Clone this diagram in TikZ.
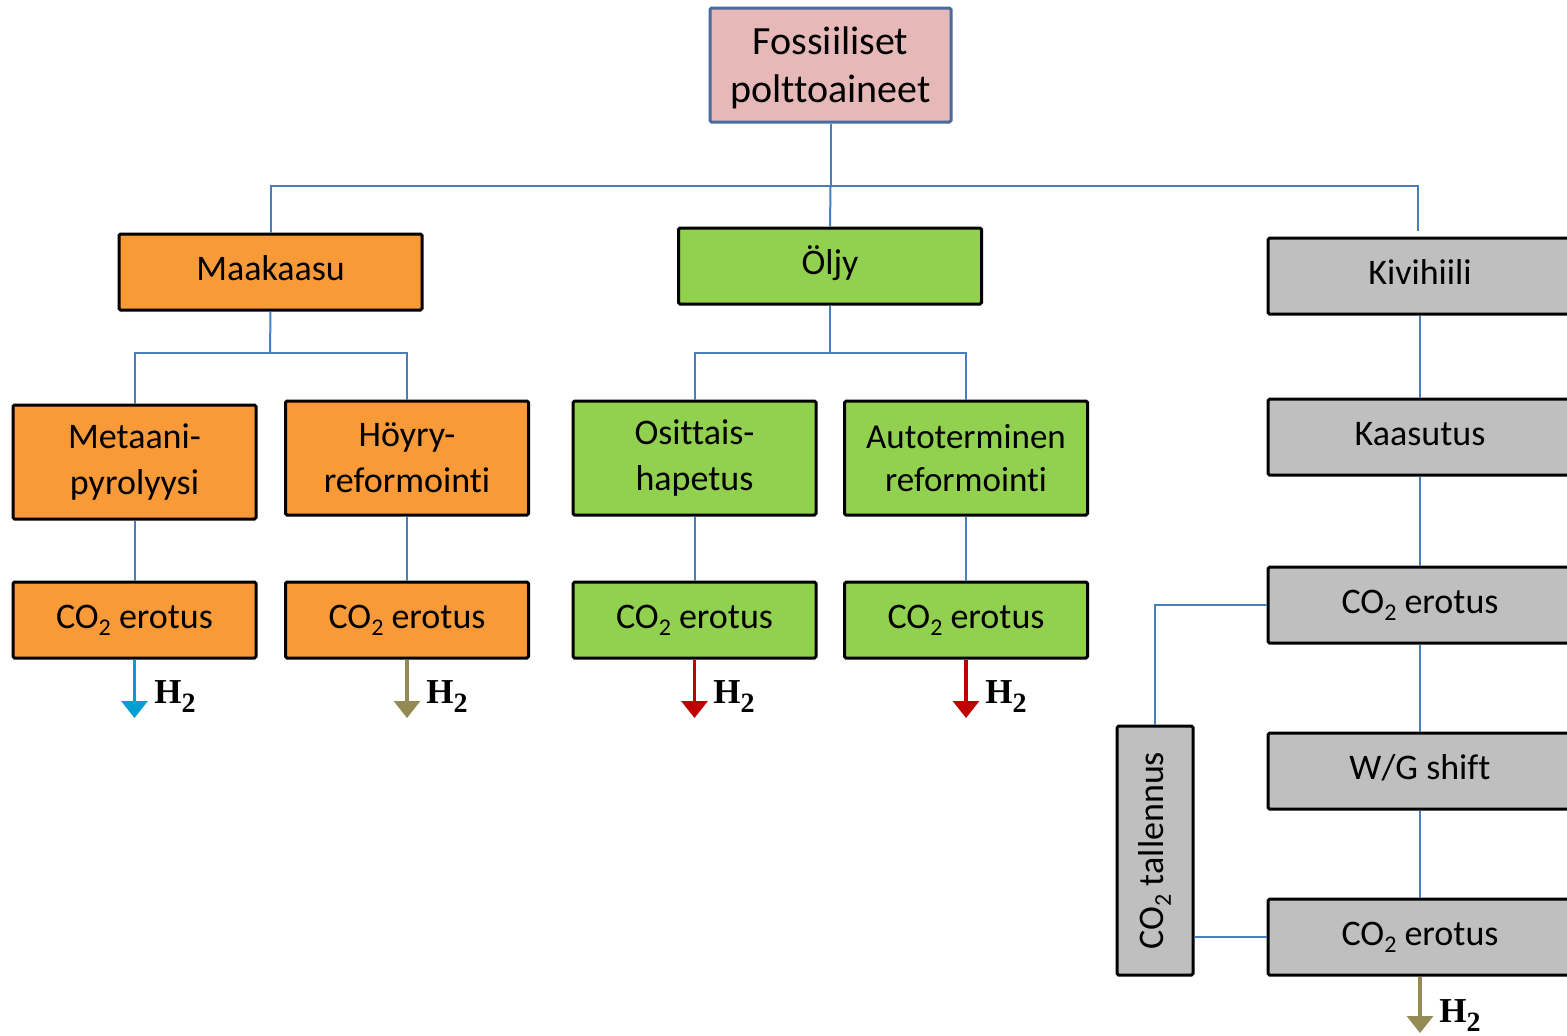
\documentclass[tikz,border=0pt]{standalone}
\usepackage{fontspec}
\setmainfont{Carlito}[Ligatures=NoCommon]
\newfontfamily\hfont{Liberation Serif}
\usetikzlibrary{arrows.meta}
\definecolor{orng}{HTML}{F89A38}
\definecolor{grn}{HTML}{92D050}
\definecolor{gry}{HTML}{BFBFBF}
\definecolor{pnk}{HTML}{E6B9B8}
\definecolor{topbd}{HTML}{4A6C9C}
\definecolor{conncol}{HTML}{4A7EBB}
\definecolor{cyanar}{HTML}{009FD0}
\definecolor{olivear}{HTML}{948A54}
\definecolor{redar}{HTML}{C00000}
\newcommand{\cosub}{CO\raisebox{-3.5pt}{\fontsize{12}{12}\selectfont 2}}
\newcommand{\htwo}{{\hfont\bfseries H\raisebox{-4.5pt}{\fontsize{14}{14}\selectfont 2}}}
\begin{document}
\begin{tikzpicture}[x=0.5pt,y=-0.5pt,
  box/.style={draw=black,line width=1.5pt,rounded corners=0.8pt,inner sep=0pt,align=center,
    font=\fontsize{18}{23}\selectfont},
  oneline/.style={text height=12.4pt,text depth=3.5pt},
  wide/.style={box,oneline,minimum width=151.5pt,minimum height=38pt},
  tall/.style={box,minimum width=121.5pt,minimum height=57pt},
  low/.style={box,oneline,minimum width=121.5pt,minimum height=38pt},
  conn/.style={draw=conncol,line width=1pt},
  h2arrow/.style={line width=1.6pt,-{Triangle[width=13pt,length=8.5pt]}},
  h2lab/.style={anchor=base west,inner sep=0pt,font=\fontsize{17.5}{20}\selectfont}
]
\clip (0,0) rectangle (1567,1035);
% top
\node[box,fill=pnk,draw=topbd,minimum width=120.5pt,minimum height=57pt,
  font=\fontsize{20}{24}\selectfont] (fos) at (830.5,65) {\rule{0pt}{17pt}Fossiiliset\\polttoaineet};
% level 1
\node[wide,fill=orng] (mk) at (270.5,272) {Maakaasu};
\node[wide,fill=grn] (ol) at (830,266) {Öljy};
\node[wide,fill=gry,minimum width=152pt] (kh) at (1420,276) {Kivihiili};
% level 2
\node[tall,fill=orng] (met) at (134.5,462) {Metaani-\\pyrolyysi};
\node[tall,fill=orng] (hoy) at (407,458) {Höyry-\\reformointi};
\node[tall,fill=grn] (osi) at (694.5,458) {Osittais-\\hapetus};
\node[tall,fill=grn,font=\fontsize{17.5}{21.5}\selectfont] (aut) at (966,458) {Autoterminen\\reformointi};
% CO2 erotus
\node[low,fill=orng] (c1) at (134.5,620) {\cosub{} erotus};
\node[low,fill=orng] (c2) at (407,620) {\cosub{} erotus};
\node[low,fill=grn] (c3) at (694.5,620) {\cosub{} erotus};
\node[low,fill=grn] (c4) at (966,620) {\cosub{} erotus};
% coal column
\node[wide,fill=gry,minimum width=152pt] (kaa) at (1420,437) {Kaasutus};
\node[wide,fill=gry,minimum width=152pt] (ce1) at (1420,605) {\cosub{} erotus};
\node[wide,fill=gry,minimum width=152pt] (wg) at (1420,771) {W/G shift};
\node[wide,fill=gry,minimum width=152pt] (ce2) at (1420,937) {\cosub{} erotus};
\node[box,oneline,fill=gry,minimum width=124.5pt,minimum height=38pt,rotate=90] (tal) at (1155,850.5) {\cosub{} tallennus};
% connectors
\coordinate (bus) at (830,186);
\coordinate (bus2) at (270,353);
\coordinate (bus3) at (830,353);
\draw[conn] (fos.south) -- (fos.south |- bus);
\draw[conn] (mk.north) -- (mk.north |- bus) -- ([xshift=-1pt]kh.north |- bus) -- ([xshift=-1pt,yshift=3pt]kh.north);
\draw[conn] (fos.south |- bus) -- (ol.north);
\draw[conn] (mk.south) -- (bus2);
\draw[conn] (met.north) -- (met.north |- bus2) -- (hoy.north |- bus2) -- (hoy.north);
\draw[conn] (ol.south) -- (bus3);
\draw[conn] (osi.north) -- (osi.north |- bus3) -- (aut.north |- bus3) -- (aut.north);
\draw[conn] (met.south) -- (c1.north);
\draw[conn] (hoy.south) -- (c2.north);
\draw[conn] (osi.south) -- (c3.north);
\draw[conn] (aut.south) -- (c4.north);
\draw[conn] (kh.south) -- (kaa.north);
\draw[conn] (kaa.south) -- (ce1.north);
\draw[conn] (ce1.south) -- (wg.north);
\draw[conn] (wg.south) -- (ce2.north);
\draw[conn] (ce1.west) -| (tal.east);
\draw[conn] (tal.south |- ce2.west) -- (ce2.west);
% H2 outputs
\coordinate (e1) at (134.5,718);
\coordinate (e2) at (407,718);
\coordinate (e3) at (694.5,718);
\coordinate (e4) at (966,718);
\coordinate (e5) at (1420,1033);
\draw[h2arrow,cyanar] (c1.south) -- (e1);
\draw[h2arrow,olivear] (c2.south) -- (e2);
\draw[h2arrow,redar] (c3.south) -- (e3);
\draw[h2arrow,redar] (c4.south) -- (e4);
\draw[h2arrow,olivear] (ce2.south) -- (e5);
\node[h2lab] (l1) at (154,703) {\htwo};
\node[h2lab] (l2) at (426,703) {\htwo};
\node[h2lab] (l3) at (713,703) {\htwo};
\node[h2lab] (l4) at (985,703) {\htwo};
\node[h2lab] (l5) at (1439,1022) {\htwo};
\end{tikzpicture}
\end{document}
